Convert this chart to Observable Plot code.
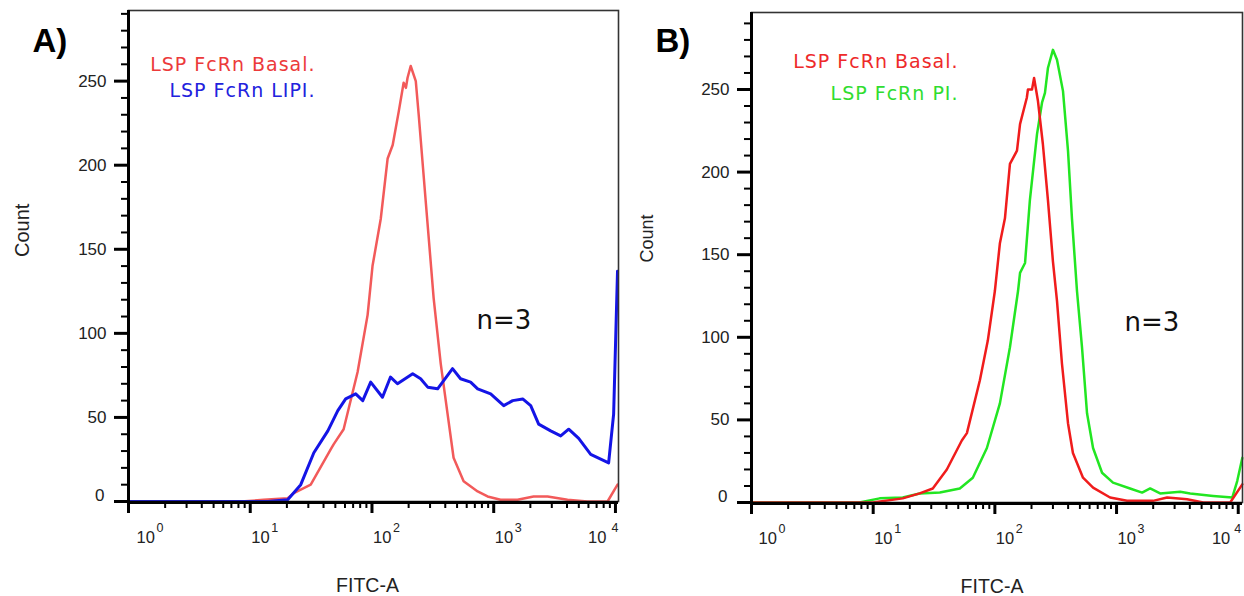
<!DOCTYPE html>
<html><head><meta charset="utf-8">
<script src="https://cdn.jsdelivr.net/npm/d3@7"></script>
<script src="https://cdn.jsdelivr.net/npm/@observablehq/plot@0.6"></script>
<style>
html,body{margin:0;padding:0;background:#fff;}
#wrap{position:relative;width:1244px;height:596px;overflow:hidden;background:#fff;}
#wrap svg{position:absolute;top:0;overflow:visible;}
</style></head><body><div id="wrap"></div>
<script>
// ---------- data ----------
// Panel A: LSP FcRn Basal (red)
const fitcA_basal = [1, 8.4, 12.9, 20.3, 22.8, 26, 31.4, 45.8, 48.4, 58.5, 76.2, 92.1, 101, 118, 134.5, 148, 166, 182, 190, 196, 208, 229, 242, 276, 321, 367, 418, 468, 566, 738, 890, 1138, 1570, 2125, 2770, 4040, 5890, 8610, 10400];
const countA_basal = [0, 0, 1, 2, 5, 7, 10, 31, 34, 43, 77, 111, 140, 168, 204, 212, 232, 249, 246, 252, 259, 250, 230, 179, 121, 82, 52, 26, 12, 6, 3, 1, 1, 3, 3, 1, 0, 0, 10];
// Panel A: LSP FcRn LIPI (blue)
const fitcA_lipi = [1, 14, 20.3, 26, 33.3, 43.4, 52.4, 60.8, 73.5, 84, 97.6, 122, 142, 162, 216, 251, 287, 346, 459, 534, 646, 738, 944, 1208, 1432, 1730, 2013, 2340, 2937, 3550, 4130, 4990, 6260, 8790, 9660, 10400];
const countA_lipi = [0, 0, 1, 10, 29, 42, 54, 61, 64, 60, 71, 62, 74, 70, 76, 73, 68, 67, 79, 73, 71, 67, 64, 57, 60, 61, 57, 46, 42, 39, 43, 37.5, 28, 23, 52, 137];
// Panel B: LSP FcRn Basal (red)
const fitcB_basal = [1, 9.9, 17.5, 24.1, 30.9, 40.3, 53.5, 58.9, 75.3, 87.5, 100, 110, 121, 133, 152, 161, 183, 187, 202, 210, 226, 248, 273, 300, 324, 356, 399, 438, 530, 641, 885, 1219, 1995, 2605, 3800, 5150, 8590, 10800];
const countB_basal = [0, 0, 2.5, 5.5, 8.5, 20, 37.5, 42, 74, 98, 128, 157, 172, 205, 213, 229, 245, 250, 250, 257, 243, 217, 183, 146, 122, 84, 48, 30, 15, 9, 3, 1, 1, 3, 2, 0, 0, 11];
// Panel B: LSP FcRn PI (green)
const fitcB_pi = [1, 7.7, 11.3, 17.5, 24.1, 35.3, 51.5, 65.9, 86, 110, 133, 155, 161, 177, 194, 222, 244, 258, 273, 300, 324, 363, 399, 430, 473, 520, 572, 641, 760, 935, 1291, 1622, 1888, 2280, 3334, 4027, 6223, 8930, 9810, 10800];
const countB_pi = [0, 0, 2.5, 3, 5.5, 6, 8.5, 15, 33, 60, 94, 128, 139, 145, 183, 223, 242, 248, 263, 274, 268, 249, 213, 172, 128, 94, 54, 33, 18, 12, 8.5, 6, 8.5, 5.5, 6.5, 5.5, 4, 3, 13, 27];

// ticks and labels
const yMajorTicks = [0, 50, 100, 150, 200, 250];
const yMinorTicks = [10, 20, 30, 40, 60, 70, 80, 90, 110, 120, 130, 140, 160, 170, 180, 190, 210, 220, 230, 240, 260, 270, 280, 290];
const xMajorTicks = [1, 10, 100, 1000, 10000];
const xExponents = ["0", "1", "2", "3", "4"];
const xMinorSteps = [2, 3, 4, 5, 6, 7, 8, 9];
const xMinorTicks = xMajorTicks.slice(0, 4).flatMap(d => xMinorSteps.map(s => d * s));
const panelLetters = ["A)", "B)"];
const legendA = ["LSP FcRn Basal.", "LSP FcRn LIPI."];
const legendB = ["LSP FcRn Basal.", "LSP FcRn PI."];
const yLabel = "Count";
const xLabel = "FITC-A";
const noteText = "n=3";

// ---------- drawing ----------
const ARIAL = "Arial, 'Liberation Sans', sans-serif";
const WIDE = "'DejaVu Sans', Verdana, sans-serif";

function series(xs, ys) { return xs.map((x, i) => ({x, y: ys[i]})); }

function xLabelMarks(cfg) {
  const tbl = xMajorTicks.map((v, i) => ({v, e: xExponents[i]}));
  const first = tbl.slice(0, 1), mid = tbl.slice(1, 4), last = tbl.slice(4);
  const base = {x: "v", frameAnchor: "bottom", fontFamily: ARIAL, fill: "#222", lineAnchor: "middle"};
  const big = {...base, text: () => "10", fontSize: 16.5, dy: 36};
  const sup = {...base, text: "e", fontSize: 12.5, dy: 26};
  return [
    Plot.text(first, {...big, textAnchor: "start", dx: cfg.firstDx}),
    Plot.text(first, {...sup, textAnchor: "start", dx: cfg.firstDx + 20}),
    Plot.text(mid, {...big, textAnchor: "start", dx: 1}),
    Plot.text(mid, {...sup, textAnchor: "start", dx: 21}),
    Plot.text(last, {...big, textAnchor: "end", dx: cfg.lastDx}),
    Plot.text(last, {...sup, textAnchor: "end", dx: 3})
  ];
}

function panel(cfg) {
  const marks = [
    // curves
    ...cfg.lines.map(l => Plot.line(l.data, {x: "x", y: "y", stroke: l.color, strokeWidth: l.width, strokeLinejoin: "round"})),
    // frame
    Plot.frame({stroke: "#333", strokeWidth: 1.6}),
    Plot.ruleX([1], {stroke: "#000", strokeWidth: 3}),
    Plot.ruleY([0], {stroke: "#000", strokeWidth: 3, dy: 1}),
    // y axis
    Plot.axisY({ticks: yMajorTicks, tickSize: 14, tickPadding: 8, stroke: "#000", strokeWidth: 3,
      tickFormat: d => d === 0 ? "" : String(d), fontSize: 17, fontFamily: ARIAL, fill: "#222", label: null}),
    Plot.axisY({ticks: yMinorTicks, tickSize: 7, stroke: "#000", strokeWidth: 2, tickFormat: () => "", label: null}),
    Plot.text([0], {y: d => d, text: d => String(d), frameAnchor: "left", textAnchor: "end", dx: -24, dy: -6,
      fontSize: 17, fontFamily: ARIAL, fill: "#222"}),
    // x axis
    Plot.axisX({ticks: xMajorTicks, tickSize: 12, stroke: "#000", strokeWidth: 3, tickFormat: () => "", label: null}),
    Plot.axisX({ticks: xMinorTicks, tickSize: 7, stroke: "#000", strokeWidth: 2, tickFormat: () => "", label: null}),
    ...xLabelMarks(cfg),
    // axis titles
    Plot.text([yLabel], {text: d => d, frameAnchor: "left", rotate: -90, dx: cfg.countDx, dy: cfg.countDy,
      fontSize: cfg.countSize, fontFamily: ARIAL, fill: "#222", lineAnchor: "middle"}),
    Plot.text([xLabel], {text: d => d, frameAnchor: "bottom", dx: cfg.fitcDx, dy: 84,
      fontSize: 19.5, fontFamily: ARIAL, fill: "#222", lineAnchor: "middle"}),
    // panel letter
    Plot.text([cfg.letter], {text: d => d, frameAnchor: "top-left", textAnchor: "start", dx: -96, dy: cfg.letterDy,
      fontSize: 33, fontWeight: "bold", fontFamily: ARIAL, fill: "#000", lineAnchor: "middle"}),
    // legend
    ...cfg.legend.map((t, i) => Plot.text([t], {text: d => d, frameAnchor: "top-left", textAnchor: "end",
      dx: cfg.legendDx, dy: cfg.legendDy[i], fontSize: 19, fontFamily: WIDE, fill: cfg.legendColors[i], lineAnchor: "middle"})),
    // n=3
    Plot.text([noteText], {text: d => d, frameAnchor: "top-left", textAnchor: "start", dx: cfg.nDx, dy: 310,
      fontSize: 26, fontFamily: WIDE, fill: "#111", lineAnchor: "middle"})
  ];
  const svg = Plot.plot({
    width: 622, height: 596,
    marginLeft: cfg.ml, marginRight: cfg.mr, marginTop: cfg.mt, marginBottom: cfg.mb,
    x: {type: "log", domain: [1, cfg.xMax]},
    y: {domain: [0, cfg.yMax]},
    style: {fontFamily: ARIAL, fontSize: "17px", color: "#222", background: "transparent", overflow: "visible"},
    marks
  });
  svg.style.left = cfg.left + "px";
  // slightly wider spacing for the legend lettering, as in the instrument's export
  d3.select(svg).selectAll("text").filter(function () { return cfg.legend.includes(this.textContent); })
    .style("letter-spacing", "1px");
  document.getElementById("wrap").appendChild(svg);
}

panel({
  left: 0, ml: 128, mr: 4, mt: 10, mb: 95, xMax: 10593, yMax: 292,
  lines: [
    {data: series(fitcA_basal, countA_basal), color: "#f25a5a", width: 2.5},
    {data: series(fitcA_lipi, countA_lipi), color: "#1414e6", width: 3}
  ],
  letter: panelLetters[0], letterDy: 31,
  legend: legendA, legendColors: ["#ec3a3a", "#2222dd"], legendDx: 187, legendDy: [54, 80],
  nDx: 348, countDx: -106, countDy: 1, countSize: 20, fitcDx: -6, firstDx: 8, lastDx: -9
});
panel({
  left: 622, ml: 129, mr: 2, mt: 12, mb: 94, xMax: 10840, yMax: 296.6,
  lines: [
    {data: series(fitcB_pi, countB_pi), color: "#22e622", width: 2.5},
    {data: series(fitcB_basal, countB_basal), color: "#f01c1c", width: 2.5}
  ],
  letter: panelLetters[1], letterDy: 29,
  legend: legendB, legendColors: ["#ee2a2a", "#30dd30"], legendDx: 207, legendDy: [49, 81],
  nDx: 373, countDx: -104, countDy: 5, countSize: 18, fitcDx: -5, firstDx: 7, lastDx: -8
});
</script></body></html>
